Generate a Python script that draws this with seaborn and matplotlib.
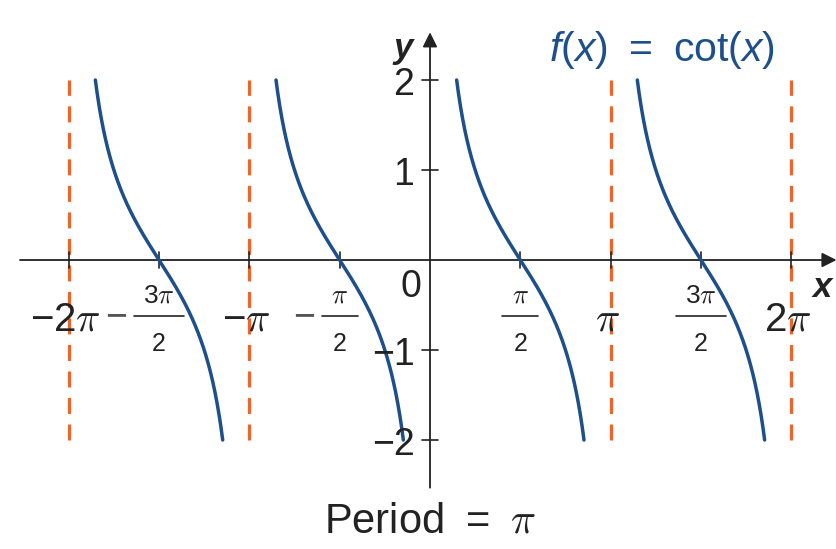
import numpy as np
import matplotlib
matplotlib.use("Agg")
import matplotlib.pyplot as plt
import seaborn as sns
import pandas as pd

sns.set_style("white")
plt.rcParams['font.family'] = ['Liberation Sans', 'DejaVu Sans']
plt.rcParams['mathtext.fontset'] = 'custom'
plt.rcParams['mathtext.rm'] = 'Liberation Sans'
plt.rcParams['mathtext.it'] = 'Liberation Sans:italic'
plt.rcParams['mathtext.sf'] = 'Liberation Sans:italic'
plt.rcParams['mathtext.bf'] = 'Liberation Sans:bold:italic'

# branches of cot(x): each lives between two consecutive multiples of pi
branch_starts = [-2 * np.pi, -np.pi, 0.0, np.pi]
asymptotes = [-2 * np.pi, -np.pi, np.pi, 2 * np.pi]
y_cap = 2.0

x_tick_pos = [-2 * np.pi, -1.5 * np.pi, -np.pi, -0.5 * np.pi,
              0.5 * np.pi, np.pi, 1.5 * np.pi, 2 * np.pi]
x_tick_labels = ['\u22122\u03c0', '\u22123\u03c0/2', '\u2212\u03c0', '\u2212\u03c0/2',
                 '\u03c0/2', '\u03c0', '3\u03c0/2', '2\u03c0']
y_tick_pos = [-2, -1, 1, 2]
y_tick_labels = ['\u22122', '\u22121', '1', '2']

blue = '#1d4f8c'
orange = '#f0642a'
dark = '#222222'

rows = []
for i, s in enumerate(branch_starts):
    lo = s + np.arctan(1 / y_cap)
    hi = s + np.pi - np.arctan(1 / y_cap)
    for xv in np.linspace(lo, hi, 300):
        rows.append((i, xv, np.cos(xv) / np.sin(xv)))
df = pd.DataFrame(rows, columns=['branch', 'x', 'y'])

fig = plt.figure(figsize=(8.37, 5.49), dpi=100)
ax = fig.add_axes([0, 0, 1, 1])
ax.set_xlim(-7.478, 7.078)
ax.set_ylim(-3.211, 2.889)
px = 57.5  # pixels per x unit


def pi_math(s):
    return s.replace('\u03c0', r'$\pi$')


# asymptotes
for a in asymptotes:
    ax.plot([a, a], [-y_cap, y_cap], color=orange, lw=2.3, ls=(0, (5, 3.3)), zorder=1)

# axes with arrows
ax.annotate('', xy=(7.07, 0), xytext=(-7.13, 0),
            arrowprops=dict(arrowstyle='-|>', color=dark, lw=1.3, mutation_scale=22,
                            shrinkA=0, shrinkB=0))
ax.annotate('', xy=(0, 2.53), xytext=(0, -2.53),
            arrowprops=dict(arrowstyle='-|>', color=dark, lw=1.3, mutation_scale=22,
                            shrinkA=0, shrinkB=0))

# tick marks
for xp in x_tick_pos:
    ax.plot([xp, xp], [-0.085, 0.085], color=dark, lw=1.2, zorder=2)
for yp in y_tick_pos:
    ax.plot([-0.14, 0.14], [yp, yp], color=dark, lw=1.2, zorder=2)

sns.lineplot(data=df, x='x', y='y', units='branch', estimator=None, sort=False,
             color=blue, lw=2.5, ax=ax, zorder=3, legend=False)
ax.axis('off')

# x tick labels (fractions stacked by hand), pi drawn in the TeX italic face
renderer = fig.canvas.get_renderer()
for xp, lab in zip(x_tick_pos, x_tick_labels):
    neg = lab.startswith('\u2212')
    body = lab[1:] if neg else lab
    if '/' in body:
        num, den = body.split('/')
        t = ax.text(xp, -0.39, pi_math(num), fontsize=19, ha='center', va='center',
                    color=dark, math_fontfamily='cm')
        ax.text(xp, -0.93, den, fontsize=18, ha='center', va='center', color=dark)
        w = t.get_window_extent(renderer).width / px
        half = w / 2 + 9.5 / px
        ax.plot([xp - half, xp + half], [-0.622, -0.622], color=dark, lw=1.2)
        if neg:
            ax.text(xp - half - 7 / px, -0.64, '\u2212', fontsize=27, ha='right', va='center',
                    color='#555555')
    else:
        ax.text(xp - 0.06, -0.66, pi_math(lab), fontsize=29, ha='center', va='center',
                color=dark, math_fontfamily='cm')

for yp, lab in zip(y_tick_pos, y_tick_labels):
    ax.text(-0.27, yp - 0.05, lab, fontsize=27, ha='right', va='center', color=dark)
ax.text(-0.33, -0.3, '0', fontsize=27, ha='center', va='center', color=dark)

ax.text(6.83, -0.3, r'$\mathbf{x}$', fontsize=25, ha='center', va='center', color=dark)
ax.text(-0.45, 2.33, r'$\mathbf{y}$', fontsize=25, ha='center', va='center', color=dark)

ax.text(4.03, 2.33, r'$\mathsf{f}$($\mathsf{x}$)' + '\u2002=\u2002' + r'cot($\mathsf{x}$)',
        fontsize=29.5, ha='center', va='center', color=blue)
ax.text(0.0, -2.91, 'Period\u2002=\u2002' + r'$\pi$', fontsize=30, ha='center', va='center',
        color=dark, math_fontfamily='cm')

fig.savefig('out.png', dpi=100)
